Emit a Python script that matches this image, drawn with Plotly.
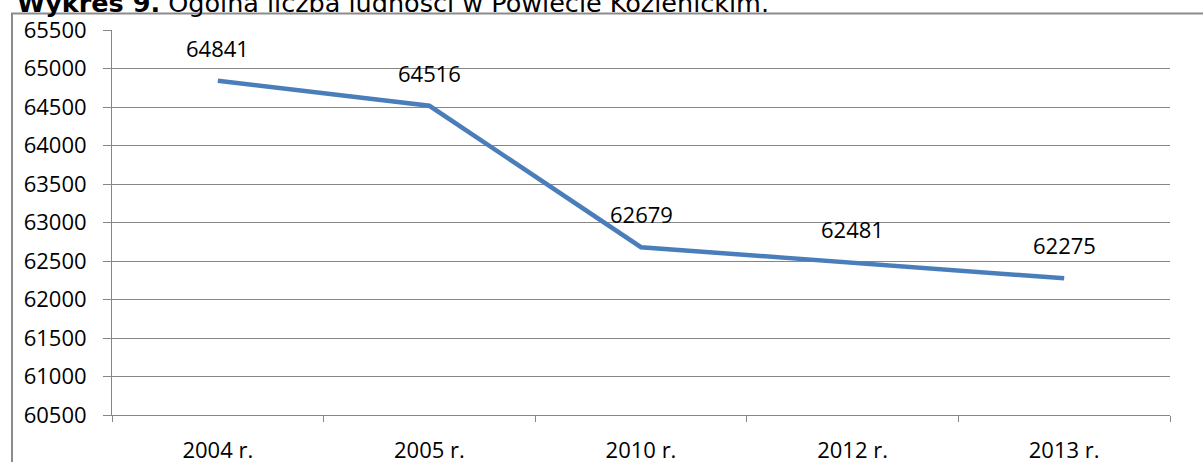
import plotly.graph_objects as go

categories = ["2004 r.", "2005 r.", "2010 r.", "2012 r.", "2013 r."]
population = [64841, 64516, 62679, 62481, 62275]
label_text = [str(v) for v in population]
y_ticks = list(range(60500, 65501, 500))
y_tick_text = [str(v) for v in y_ticks]

W, H = 1203, 462
L, R, T, B = 112, 33, 30, 47
pw, ph = W - L - R, H - T - B

def px_x(x):
    return (x - L) / pw

def px_y(y):
    return (H - B - y) / ph

GRID = "#868686"
FONT = "Open Sans, Liberation Sans, sans-serif"

fig = go.Figure()
fig.add_trace(go.Scatter(
    x=categories, y=population, mode="lines",
    line=dict(color="#4A7EBB", width=4.5),
    hoverinfo="x+y", showlegend=False,
))

for c, v, t in zip(categories, population, label_text):
    fig.add_annotation(x=c, y=v, text=t, showarrow=False, yshift=33,
                       font=dict(family=FONT, size=22, color="#000000"))

# title (cut off at top in the original)
fig.add_annotation(
    xref="paper", yref="paper", x=px_x(15), y=px_y(3),
    xanchor="left", yanchor="middle", showarrow=False,
    text="<b>Wykres 9.</b> Ogólna liczba ludności w Powiecie Kozienickim.",
    font=dict(family="DejaVu Sans, Verdana, sans-serif", size=25.5, color="#000000"),
)

# outer chart border
fig.add_shape(type="rect", xref="paper", yref="paper",
              x0=px_x(12), y0=px_y(480), x1=px_x(1220), y1=px_y(13.5),
              line=dict(color="#8C8C8C", width=2), fillcolor="rgba(0,0,0,0)",
              layer="below")

fig.update_layout(
    width=W, height=H,
    margin=dict(l=L, r=R, t=T, b=B, pad=0, autoexpand=False),
    paper_bgcolor="white", plot_bgcolor="white",
    font=dict(family=FONT, size=22, color="#000000"),
    xaxis=dict(
        type="category", range=[-0.5, 4.5], automargin=False,
        showgrid=False, showline=True, linecolor=GRID, linewidth=1,
        ticks="outside", tickson="boundaries", ticklen=6, tickcolor=GRID,
        tickfont=dict(family=FONT, size=22), ticklabelstandoff=16,
        zeroline=False, fixedrange=True,
    ),
    yaxis=dict(
        range=[60500, 65500], tickvals=y_ticks, ticktext=y_tick_text,
        automargin=False,
        showgrid=True, gridcolor=GRID, gridwidth=1,
        showline=True, linecolor=GRID, linewidth=1,
        ticks="outside", ticklen=8, tickcolor=GRID,
        tickfont=dict(family=FONT, size=22), ticklabelstandoff=12,
        zeroline=False, fixedrange=True,
    ),
)

fig.write_html(
    "out.html",
    config={"displayModeBar": False},
    post_script="document.body.style.margin='0';document.body.style.overflow='hidden';",
)
